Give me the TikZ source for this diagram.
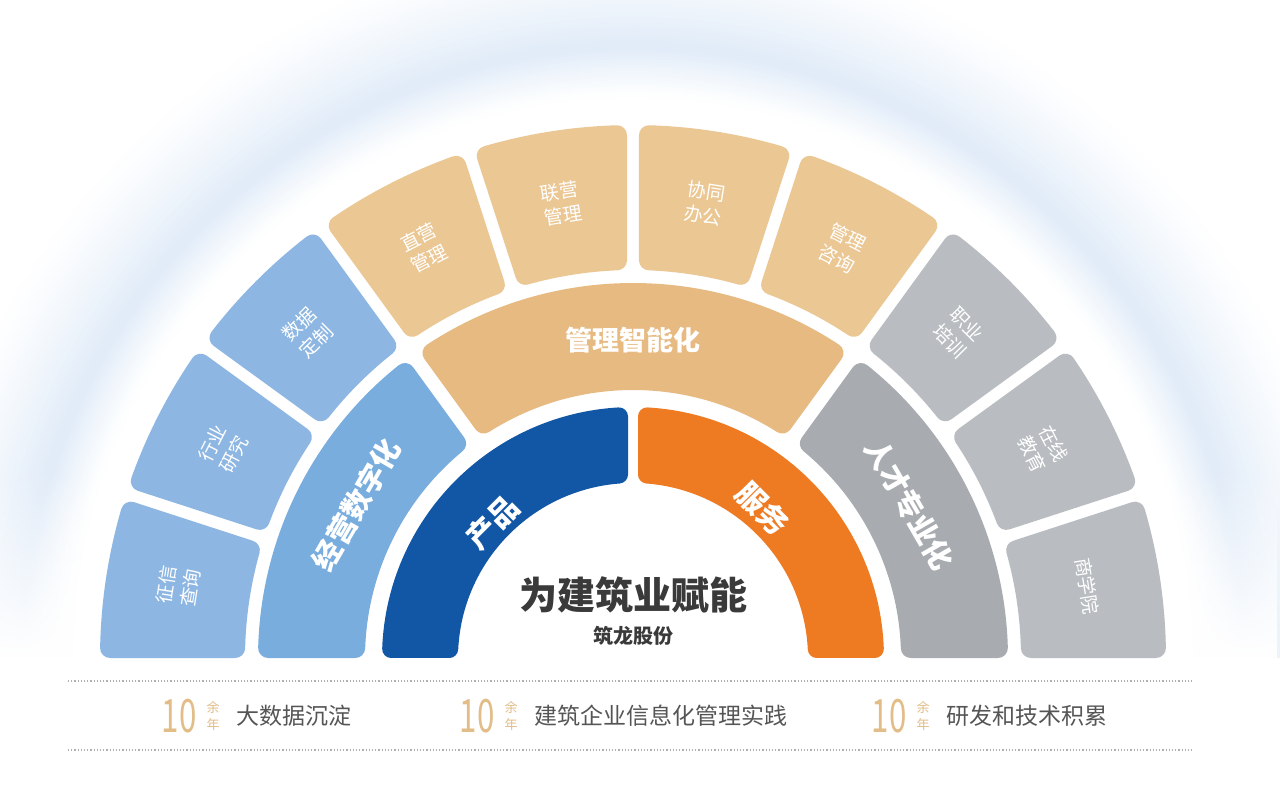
\documentclass[tikz,border=0pt]{standalone}
\usepackage{fontspec}
\usetikzlibrary{fadings}
\newfontfamily\cjk{Noto Sans CJK SC}
\definecolor{cProd}{HTML}{1257A6}
\definecolor{cServ}{HTML}{EE7B22}
\definecolor{cMidBlue}{HTML}{79ADDE}
\definecolor{cOutBlue}{HTML}{8DB7E2}
\definecolor{cMidTan}{HTML}{E7BA82}
\definecolor{cOutTan}{HTML}{EBC794}
\definecolor{cMidGray}{HTML}{A8ACB0}
\definecolor{cOutGray}{HTML}{B9BDC1}
\definecolor{cTitle}{HTML}{3A3A3A}
\definecolor{cText}{HTML}{555555}
\definecolor{cNum}{HTML}{E2BD88}
\definecolor{cHalo}{HTML}{E0EBF8}
\definecolor{cDot}{HTML}{B0B0B0}
\newcommand\ztile[8]{%
  \pgfmathsetmacro\zRa{#1+#8}%
  \pgfmathsetmacro\zRb{#2-#8}%
  \pgfmathsetmacro\zaA{#3+asin((#5+#8)/\zRa)}%
  \pgfmathsetmacro\zaB{#3+asin((#5+#8)/\zRb)}%
  \pgfmathsetmacro\zbA{#4-asin((#6+#8)/\zRa)}%
  \pgfmathsetmacro\zbB{#4-asin((#6+#8)/\zRb)}%
  \pgfmathsetmacro\zlw{2*#8}%
  \filldraw[fill=#7, draw=#7, line width=\zlw pt, line join=round]
    ([shift={(\zaA:\zRa)}]C) -- ([shift={(\zaB:\zRb)}]C)
    arc[start angle=\zaB, end angle=\zbB, radius=\zRb]
    -- ([shift={(\zbA:\zRa)}]C)
    arc[start angle=\zbA, end angle=\zaA, radius=\zRa] -- cycle;
}
\begin{document}
\begin{tikzpicture}[x=1pt,y=1pt,
  outlbl/.style={text=white, align=center, font=\cjk\fontsize{19}{24}\selectfont},
  midlbl/.style={text=white, font=\cjk\bfseries\fontsize{29}{34}\selectfont},
  innlbl/.style={text=white, font=\cjk\bfseries\fontsize{30}{36}\selectfont},
  num/.style={text=cNum, font=\cjk\fontsize{46}{50}\selectfont, xscale=0.68, inner sep=0pt},
  yunian/.style={text=cNum, align=center, font=\cjk\fontsize{13}{17}\selectfont, inner sep=0pt},
  btxt/.style={text=cText, font=\cjk\fontsize{23}{27}\selectfont, anchor=west, inner sep=0pt},
  dotline/.style={draw=cDot, line width=1.2pt, dash pattern=on 1.2pt off 2pt}]
\useasboundingbox (0,0) rectangle (1280,799);
\fill[white] (0,0) rectangle (1280,799);
\coordinate (C) at (633,141);
% halo
\begin{scope}
  \clip (0,141) rectangle (1280,799);
  \foreach \r in {722,719,...,560}{
    \pgfmathtruncatemacro\p{\r>612 ? 100*((722-\r)/110)^1.3 : 100*((\r-560)/52)^1.2}
    \fill[cHalo!\p!white] (C) circle (\r);
  }
  \fill[white] (C) circle (558);
  \fill[white, path fading=north] (0,141) rectangle (1280,330);
\end{scope}
% outer ring
\ztile{388}{533}{0}{18}{0}{6}{cOutGray}{10}
\ztile{388}{533}{18}{36}{6}{6}{cOutGray}{10}
\ztile{388}{533}{36}{54}{6}{6}{cOutGray}{10}
\ztile{388}{533}{54}{72}{6}{6}{cOutTan}{10}
\ztile{388}{533}{72}{90}{6}{6}{cOutTan}{10}
\ztile{388}{533}{90}{108}{6}{6}{cOutTan}{10}
\ztile{388}{533}{108}{126}{6}{6}{cOutTan}{10}
\ztile{388}{533}{126}{144}{6}{6}{cOutBlue}{10}
\ztile{388}{533}{144}{162}{6}{6}{cOutBlue}{10}
\ztile{388}{533}{162}{180}{6}{0}{cOutBlue}{10}
% middle ring
\ztile{268}{375}{0}{54}{0}{7}{cMidGray}{10}
\ztile{268}{375}{54}{126}{7}{7}{cMidTan}{10}
\ztile{268}{375}{126}{180}{7}{0}{cMidBlue}{10}
% inner ring
\ztile{175}{251}{0}{90}{0}{5}{cServ}{9}
\ztile{175}{251}{90}{180}{5}{0}{cProd}{9}
% outer labels
\node[outlbl, rotate=81]  (o1) at ([shift={(171:460)}]C) {征信\\查询};
\node[outlbl, rotate=63]  (o2) at ([shift={(153:460)}]C) {行业\\研究};
\node[outlbl, rotate=45]  (o3) at ([shift={(135:460)}]C) {数据\\定制};
\node[outlbl, rotate=27]  (o4) at ([shift={(117:460)}]C) {直营\\管理};
\node[outlbl, rotate=9]   (o5) at ([shift={(99:460)}]C)  {联营\\管理};
\node[outlbl, rotate=-9]  (o6) at ([shift={(81:460)}]C)  {协同\\办公};
\node[outlbl, rotate=-27] (o7) at ([shift={(63:460)}]C)  {管理\\咨询};
\node[outlbl, rotate=-45] (o8) at ([shift={(45:460)}]C)  {职业\\培训};
\node[outlbl, rotate=-63] (o9) at ([shift={(27:460)}]C)  {在线\\教育};
\node[outlbl, rotate=-81] (o10) at ([shift={(9:460)}]C) {商学院};
% middle labels
\node[midlbl, rotate=60]  (m1) at ([shift={(151:316)}]C) {经营数字化};
\node[midlbl, font=\cjk\bfseries\fontsize{27}{32}\selectfont] (m2) at ([shift={(90:318)}]C) {管理智能化};
\node[midlbl, rotate=-60] (m3) at ([shift={(29:316)}]C) {人才专业化};
% inner labels
\node[innlbl, rotate=45]  (i1) at ([shift={(136:195)}]C) {产品};
\node[innlbl, rotate=-45] (i2) at ([shift={(49:198)}]C) {服务};
% title
\node[text=cTitle, font=\cjk\bfseries\fontsize{38}{44}\selectfont] (t1) at (633,204) {为建筑业赋能};
\node[text=cTitle, font=\cjk\bfseries\fontsize{20}{24}\selectfont] (t2) at (633,163) {筑龙股份};
% bottom
\coordinate (l1a) at (68,118);
\coordinate (l1b) at (1192,118);
\coordinate (l2a) at (68,49);
\coordinate (l2b) at (1192,49);
\draw[dotline] (l1a) -- (l1b);
\draw[dotline] (l2a) -- (l2b);
\node[num] (n1) at (179,83) {10};
\node[yunian] (y1) at (213,83) {余\\年};
\node[btxt] (b1) at (236,83) {大数据沉淀};
\node[num] (n2) at (477,83) {10};
\node[yunian] (y2) at (511,83) {余\\年};
\node[btxt] (b2) at (534,83) {建筑企业信息化管理实践};
\node[num] (n3) at (889,83) {10};
\node[yunian] (y3) at (923,83) {余\\年};
\node[btxt] (b3) at (946,83) {研发和技术积累};
\end{tikzpicture}
\end{document}
